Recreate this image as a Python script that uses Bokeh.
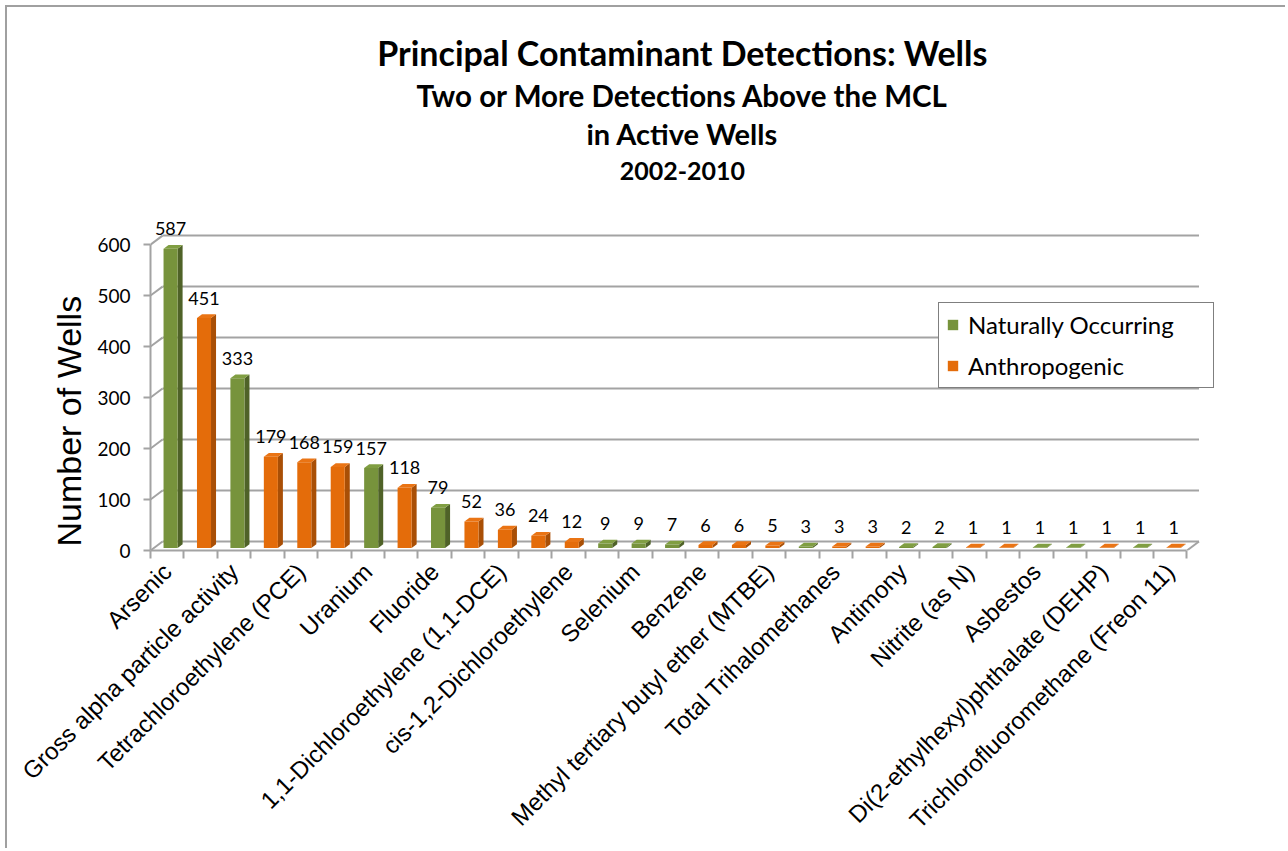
import numpy as np
from bokeh.plotting import figure
from bokeh.models import (ColumnDataSource, FixedTicker, Range1d, Legend,
                          LegendItem, Title)
from bokeh.core.properties import value
from bokeh.embed import file_html
from bokeh.resources import INLINE

# ---------------- data ----------------
# Excel printed only every other category name; unprinted names are "".
categories = [
    "Arsenic", "", "Gross alpha particle activity", "",
    "Tetrachloroethylene (PCE)", "", "Uranium", "", "Fluoride", "",
    "1,1-Dichloroethylene (1,1-DCE)", "", "cis-1,2-Dichloroethylene", "",
    "Selenium", "", "Benzene", "", "Methyl tertiary butyl ether (MTBE)", "",
    "Total Trihalomethanes", "", "Antimony", "", "Nitrite (as N)", "",
    "Asbestos", "", "Di(2-ethylhexyl)phthalate (DEHP)", "",
    "Trichlorofluoromethane (Freon 11)",
]
counts = [587, 451, 333, 179, 168, 159, 157, 118, 79, 52, 36, 24, 12, 9, 9,
          7, 6, 6, 5, 3, 3, 3, 2, 2, 1, 1, 1, 1, 1, 1, 1]
origin = ["N", "A", "N", "A", "A", "A", "N", "A", "N", "A", "A", "A", "A",
          "N", "N", "N", "A", "A", "A", "N", "A", "A", "N", "N", "A", "A",
          "N", "N", "A", "N", "A"]
series_names = {"N": "Naturally Occurring", "A": "Anthropogenic"}
y_ticks = [0, 100, 200, 300, 400, 500, 600]
title_lines = ["Principal Contaminant Detections: Wells",
               "Two or More Detections Above the MCL",
               "in Active Wells",
               "2002-2010"]
y_label = "Number of Wells"

# ---------------- style ----------------
FRONT = {"N": "#77933C", "A": "#E46C0A"}
SIDE = {"N": "#4F6228", "A": "#A94F06"}
TOP = {"N": "#809E42", "A": "#EA7414"}
GRID = "#A3A3A3"

DX, DY = 0.36, 17.6     # depth of the 3-D box (data units)
BX, BY = 0.10, 4.9      # offset of the bar front inside the depth
SDX, SDY = 0.15, 7.4    # bar thickness in depth
BW = 0.42               # bar width
LABEL_OFF = 44          # data-label offset above the value

n = len(counts)
x = np.arange(1, n + 1, dtype=float)
v = np.array(counts, dtype=float)

W, H = 1280, 843
FRAME_W, FRAME_H = 1100, 543
X_END, Y_END = 33.4, 1065.0
p = figure(width=W, height=H, output_backend="svg", toolbar_location=None,
           x_range=Range1d(0.5, X_END), y_range=Range1d(0, Y_END),
           min_border_left=143, min_border_right=W - 143 - FRAME_W,
           min_border_top=0, min_border_bottom=H - FRAME_H,
           outline_line_color=None, background_fill_color="white",
           border_fill_color="white", title=None)
p.styles = {"margin-left": "5px", "margin-top": "5px",
            "border-left": "2px solid #A0A0A0", "border-top": "2px solid #A0A0A0"}
p.grid.visible = False

# back wall grid lines, floor edges
gy = np.array(y_ticks, dtype=float)
p.segment(x0=0.5 + DX, y0=gy + DY, x1=0.5 + n + DX, y1=gy + DY,
          line_color=GRID, line_width=2)
p.segment(x0=0.5, y0=gy, x1=0.5 + DX, y1=gy + DY, line_color=GRID, line_width=2)
p.segment(x0=[0.5 + n], y0=[0.0], x1=[0.5 + n + DX], y1=[DY],
          line_color=GRID, line_width=2)

# 3-D bars
xl = x + BX - BW / 2
xr = x + BX + BW / 2
yt = v + BY
side_src = ColumnDataSource(dict(
    xs=[[a, a + SDX, a + SDX, a] for a in xr],
    ys=[[BY, BY + SDY, t + SDY, t] for t in yt],
    c=[SIDE[o] for o in origin]))
top_src = ColumnDataSource(dict(
    xs=[[a, b, b + SDX, a + SDX] for a, b in zip(xl, xr)],
    ys=[[t, t, t + SDY, t + SDY] for t in yt],
    c=[TOP[o] for o in origin]))
p.patches("xs", "ys", source=side_src, fill_color="c", line_color=None)
p.patches("xs", "ys", source=top_src, fill_color="c", line_color=None)

renderers = {}
for key in ["N", "A"]:
    idx = [i for i, o in enumerate(origin) if o == key]
    src = ColumnDataSource(dict(x=x[idx] + BX, top=yt[idx]))
    renderers[key] = p.vbar(x="x", top="top", bottom=BY, width=BW, source=src,
                            fill_color=FRONT[key], line_color=None)

# data labels
lab_src = ColumnDataSource(dict(x=x + BX, y=v + LABEL_OFF,
                                t=[str(c) for c in counts]))
p.text(x="x", y="y", text="t", source=lab_src, text_font=value("Lato"),
       text_font_size="18px", text_align="center", text_baseline="middle",
       text_color="black")

# chart titles (inside the tall frame, above the plot box)
title_src = ColumnDataSource(dict(
    x=[16.41] * 4,
    y=[977, 893, 818, 744],
    t=title_lines,
    s=["34px", "29.5px", "29px", "25px"]))
p.text(x="x", y="y", text="t", text_font_size="s", source=title_src,
       text_font=value("Lato"), text_font_style="bold", text_align="center",
       text_baseline="middle", text_color="black")

# x axis
xa = p.xaxis[0]
xa.ticker = FixedTicker(ticks=list(x), minor_ticks=list(np.arange(0.5, n + 1, 1.0)))
xa.major_label_overrides = {int(i): c for i, c in zip(x, categories)}
xa.bounds = (0.5, 0.5 + n)
xa.major_label_orientation = np.pi / 4
xa.major_tick_line_color = None
xa.major_tick_out = 0
xa.major_tick_in = 0
xa.minor_tick_out = 8
xa.minor_tick_in = 0
xa.minor_tick_line_color = GRID
xa.minor_tick_line_width = 2
xa.axis_line_color = GRID
xa.axis_line_width = 2
xa.major_label_text_font = "Liberation Sans"
xa.major_label_text_font_size = "24px"
xa.major_label_text_color = "black"
xa.major_label_standoff = 9

# y axis
ya = p.yaxis[0]
ya.ticker = FixedTicker(ticks=y_ticks)
ya.bounds = (0, 600)
ya.major_tick_out = 7
ya.major_tick_in = 0
ya.minor_tick_line_color = None
ya.axis_line_color = GRID
ya.axis_line_width = 2
ya.major_tick_line_color = GRID
ya.major_tick_line_width = 2
ya.major_label_text_font = "Lato"
ya.major_label_text_font_size = "19px"
ya.major_label_text_color = "black"
ya.major_label_standoff = 13

# y axis title as a left-panel title (positioned along the front axis)
p.add_layout(Title(text=y_label, align="left", offset=4, standoff=14,
                   text_font="Liberation Sans", text_font_size="34px",
                   text_font_style="normal", text_color="black"), "left")

# legend
legend = Legend(items=[LegendItem(label=series_names[k], renderers=[renderers[k]])
                       for k in ["N", "A"]],
                location=(788, 162), orientation="vertical", padding=7,
                spacing=12, margin=0, glyph_width=13, glyph_height=13,
                label_height=28, label_width=238, label_standoff=9,
                label_text_font="Lato", label_text_font_size="24px",
                label_text_color="black", border_line_color="black",
                border_line_width=1.5, background_fill_color="white",
                background_fill_alpha=1.0)
p.add_layout(legend)

open("out.html", "w").write(file_html(p, INLINE))
